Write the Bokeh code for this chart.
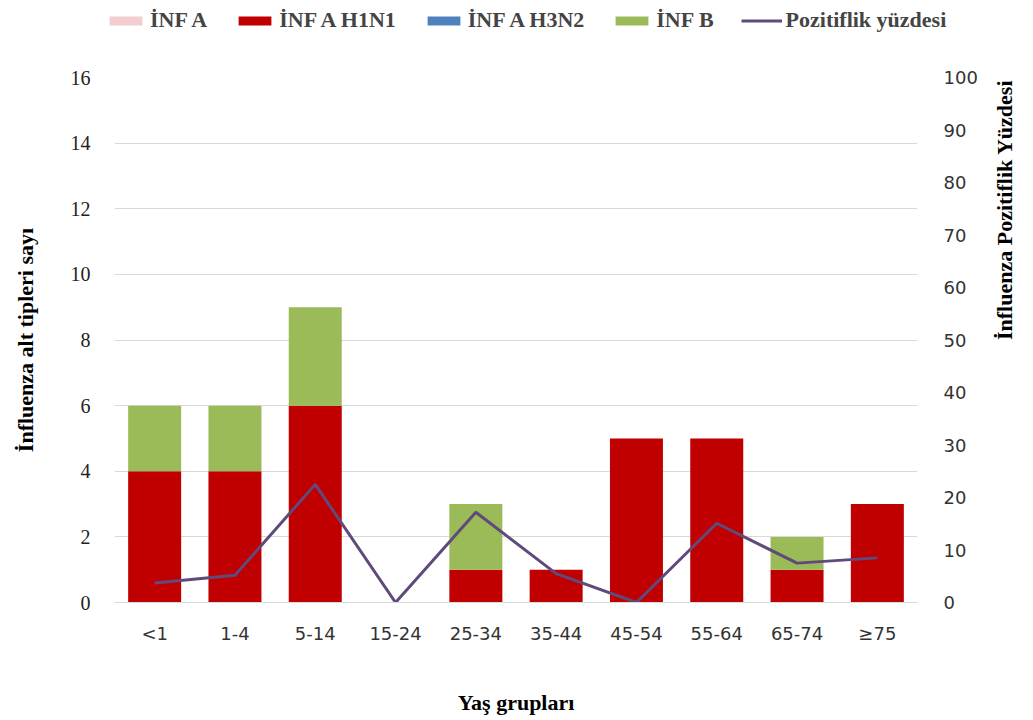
import math
from bokeh.plotting import figure
from bokeh.models import (Range1d, LinearAxis, SingleIntervalTicker, Legend, LegendItem,
                          ColumnDataSource, FactorRange)
from bokeh.layouts import column, row
from bokeh.embed import file_html
from bokeh.resources import INLINE

categories = ["<1", "1-4", "5-14", "15-24", "25-34", "35-44", "45-54", "55-64", "65-74", "≥75"]
inf_a = [0, 0, 0, 0, 0, 0, 0, 0, 0, 0]
inf_a_h1n1 = [4, 4, 6, 0, 1, 1, 5, 5, 1, 3]
inf_a_h3n2 = [0, 0, 0, 0, 0, 0, 0, 0, 0, 0]
inf_b = [2, 2, 3, 0, 2, 0, 0, 0, 1, 0]
positivity = [3.7, 5.2, 22.5, 0, 17.2, 5.5, 0, 15.1, 7.5, 8.5]

series = ["inf_a", "inf_a_h1n1", "inf_a_h3n2", "inf_b"]
labels = ["İNF A", "İNF A H1N1", "İNF A H3N2", "İNF B"]
line_label = "Pozitiflik yüzdesi"
colors = ["#F2CECE", "#C00000", "#4F81BD", "#9BBB59"]
line_color = "#604A7B"

src = ColumnDataSource(dict(cat=categories, inf_a=inf_a, inf_a_h1n1=inf_a_h1n1,
                            inf_a_h3n2=inf_a_h3n2, inf_b=inf_b, pct=positivity))

p = figure(width=1033, height=680, x_range=FactorRange(*categories, range_padding=0),
           y_range=Range1d(0, 16), output_backend="svg", toolbar_location=None,
           min_border_left=114, min_border_right=116, min_border_top=37, min_border_bottom=118)
p.outline_line_color = None
p.background_fill_color = "white"

bars = p.vbar_stack(series, x="cat", width=0.66, source=src, color=colors, line_color=None)

p.extra_y_ranges = {"pct": Range1d(0, 100)}
line = p.line(x="cat", y="pct", source=src, y_range_name="pct", line_color=line_color, line_width=3)

TITLE_FONT = "Liberation Serif"

# left axis
ya = p.yaxis[0]
ya.ticker = SingleIntervalTicker(interval=2)
ya.axis_label = "İnfluenza alt tipleri sayı"
ya.axis_label_text_font = TITLE_FONT
ya.axis_label_text_font_style = "bold"
ya.axis_label_text_font_size = "22px"
ya.axis_label_text_color = "#000000"
ya.major_label_text_font = "Liberation Serif"
ya.major_label_text_font_size = "20px"
ya.major_label_text_color = "#222222"
ya.axis_line_color = None
ya.major_tick_line_color = None
ya.minor_tick_line_color = None
ya.major_label_standoff = 18
ya.axis_label_standoff = 30

# right axis
ra = LinearAxis(y_range_name="pct", ticker=SingleIntervalTicker(interval=10))
ra.axis_label = "İnfluenza Pozitiflik Yüzdesi"
ra.axis_label_text_font = TITLE_FONT
ra.axis_label_text_font_style = "bold"
ra.axis_label_text_font_size = "22px"
ra.axis_label_text_color = "#000000"
ra.axis_label_text_align = "center"
ra.major_label_text_font = "DejaVu Sans"
ra.major_label_text_font_size = "18px"
ra.major_label_text_color = "#333333"
ra.axis_line_color = None
ra.major_tick_line_color = None
ra.minor_tick_line_color = None
ra.major_label_standoff = 20
ra.axis_label_standoff = 24
if hasattr(ra, "axis_label_orientation"):
    ra.axis_label_orientation = math.pi / 2
p.add_layout(ra, "right")

# x axis
xa = p.xaxis[0]
xa.axis_label = "Yaş grupları"
xa.axis_label_text_font = TITLE_FONT
xa.axis_label_text_font_style = "bold"
xa.axis_label_text_font_size = "22px"
xa.axis_label_text_color = "#000000"
xa.major_label_text_font = "DejaVu Sans"
xa.major_label_text_font_size = "18px"
xa.major_label_text_color = "#333333"
xa.axis_line_color = "#D9D9D9"
xa.major_tick_line_color = None
xa.minor_tick_line_color = None
xa.major_label_standoff = 14
xa.axis_label_standoff = 43

p.xgrid.grid_line_color = None
p.ygrid.grid_line_color = "#D9D9D9"
p.ygrid.ticker = SingleIntervalTicker(interval=2)

# legend strip above the chart (proxy renderers with NaN data, never drawn)
lg = figure(width=1033, height=40, x_range=Range1d(0, 1), y_range=Range1d(0, 1),
            output_backend="svg", toolbar_location=None, min_border=0)
lg.axis.visible = False
lg.grid.visible = False
lg.outline_line_color = None
proxy = ColumnDataSource(dict(x=[float("nan")], y=[float("nan")]))
items = []
for l, c in zip(labels, colors):
    r = lg.rect(x="x", y="y", width=0.1, height=0.1, source=proxy, fill_color=c, line_color=None)
    items.append(LegendItem(label=l, renderers=[r]))
rl = lg.line(x="x", y="y", source=proxy, line_color=line_color, line_width=3)
items.append(LegendItem(label=line_label, renderers=[rl]))
legend = Legend(items=items, orientation="horizontal", location=(105, 7),
                glyph_width=41, glyph_height=11, spacing=27, padding=0, margin=0,
                label_text_font="Liberation Serif", label_text_font_style="bold",
                label_text_font_size="22px", label_standoff=4,
                border_line_color=None, background_fill_alpha=0)
lg.add_layout(legend, "center")

layout = column(row(lg), p, spacing=0)
open("out.html", "w").write(file_html(layout, INLINE))
